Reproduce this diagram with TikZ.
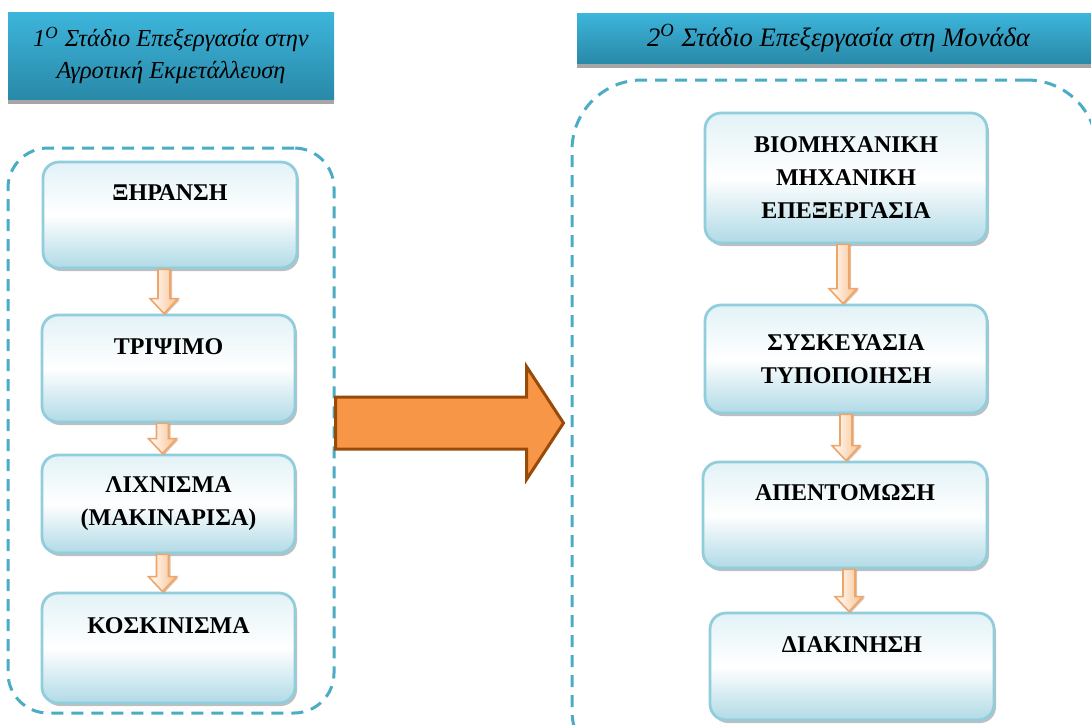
\documentclass[tikz,border=0pt]{standalone}
\usepackage{fontspec}
\setmainfont{Liberation Serif}
\usetikzlibrary{calc,shadows}
\definecolor{frameblue}{HTML}{4BACC6}
\definecolor{bartop}{HTML}{3DB5DB}
\definecolor{barbottom}{HTML}{2989A8}
\definecolor{boxtop}{HTML}{E2F2F7}
\definecolor{boxbottom}{HTML}{B0DAE6}
\definecolor{boxline}{HTML}{92CDDC}
\definecolor{peach}{HTML}{F9C08E}
\definecolor{peachline}{HTML}{EFA468}
\definecolor{bigfill}{HTML}{F79646}
\definecolor{bigline}{HTML}{9A4A08}

% down block arrow between two steps
\newcommand{\flowarrow}[3][0pt]{%
  \draw[smallarrow] let \p1=([xshift=#1]#2.south), \p2=(#2.south |- #3.north) in
    (\x1-3pt,\y1) -- (\x1+3pt,\y1) -- (\x1+3pt,\y2+7.5pt) -- (\x1+7pt,\y2+7.5pt)
    -- (\x1,\y2) -- (\x1-7pt,\y2+7.5pt) -- (\x1-3pt,\y2+7.5pt) -- cycle;}

\begin{document}
\begin{tikzpicture}[
    x=0.5pt, y=-0.5pt,
    titlebar/.style={top color=bartop, bottom color=barbottom, inner sep=0pt, align=center,
        font=\itshape\fontsize{12.2}{16}\selectfont,
        drop shadow={shadow xshift=0pt, shadow yshift=-2.5pt, fill=black!35, opacity=1}},
    frame/.style={draw=frameblue, line width=1.5pt, dash pattern=on 6pt off 4pt, rounded corners=20pt},
    stepbox/.style={rounded corners=8pt, draw=boxline, line width=1.4pt, top color=boxtop,
        bottom color=boxbottom, middle color=white, inner sep=0pt, align=center,
        font=\bfseries\fontsize{12}{16.5}\selectfont,
        drop shadow={shadow xshift=1pt, shadow yshift=-1.5pt, fill=black, opacity=0.25}},
    toptext/.style={text depth=22pt},
    smallarrow/.style={draw=peachline, line width=0.8pt, left color=white, right color=peach,
        drop shadow={shadow xshift=1pt, shadow yshift=-0.5pt, fill=peachline!80!black, opacity=0.5}},
    bigarrow/.style={fill=bigfill, draw=bigline, line width=1.5pt},
]
\useasboundingbox (0,0) rectangle (1091,724);
\fill[white] (0,0) rectangle (1091,724);
\clip (0,0) rectangle (1091,724);

% Stage frames
\node[frame, minimum width=163pt, minimum height=282.5pt] (stage1) at (171,430.5) {};
\node[frame, rounded corners=35pt, minimum width=262.5pt, minimum height=350pt] (stage2) at (834.5,430) {};

% Stage 1 steps
\node[stepbox, toptext, minimum width=127pt, minimum height=53pt] (dry) at (170,215) {ΞΗΡΑΝΣΗ};
\node[stepbox, toptext, minimum width=126.5pt, minimum height=53.5pt] (crush) at (168.5,368.5) {ΤΡΙΨΙΜΟ};
\node[stepbox, minimum width=126.5pt, minimum height=49pt] (winnow) at (168.5,504) {ΛΙΧΝΙΣΜΑ\\(ΜΑΚΙΝΑΡΙΣΑ)};
\node[stepbox, toptext, minimum width=126.5pt, minimum height=55pt] (sieve) at (168.5,648) {ΚΟΣΚΙΝΙΣΜΑ};

% Stage 2 steps
\node[stepbox, minimum width=141pt, minimum height=65pt] (process) at (846,178) {ΒΙΟΜΗΧΑΝΙΚΗ\\ΜΗΧΑΝΙΚΗ\\ΕΠΕΞΕΡΓΑΣΙΑ};
\node[stepbox, minimum width=141pt, minimum height=54pt] (pack) at (846,359) {ΣΥΣΚΕΥΑΣΙΑ\\ΤΥΠΟΠΟΙΗΣΗ};
\node[stepbox, toptext, minimum width=142pt, minimum height=53pt] (fumig) at (845,515) {ΑΠΕΝΤΟΜΩΣΗ};
\node[stepbox, toptext, minimum width=142pt, minimum height=53.5pt] (distrib) at (852,666.5) {ΔΙΑΚΙΝΗΣΗ};

% Step arrows
\flowarrow[-3pt]{dry}{crush}
\flowarrow[-3pt]{crush}{winnow}
\flowarrow[-3pt]{winnow}{sieve}
\flowarrow[-1.5pt]{process}{pack}
\flowarrow{pack}{fumig}
\flowarrow[2pt]{fumig}{distrib}

% Stage arrow
\draw[bigarrow] let \p1=(stage1.east), \p2=(stage2.west) in
    (\x1,\y1+16.75pt) -- (\x2-22pt,\y1+16.75pt) -- (\x2-22pt,\y1+32pt) -- (\x2-3.5pt,\y1+3.75pt)
    -- (\x2-22pt,\y1-24.5pt) -- (\x2-22pt,\y1-9.25pt) -- (\x1,\y1-9.25pt) -- cycle;

% Titles
\node[titlebar, minimum width=163pt, minimum height=43.5pt] (title1) at (171,55.5) {1\textsuperscript{O} Στάδιο Επεξεργασία στην\\Αγροτική Εκμετάλλευση};
\node[titlebar, font=\itshape\fontsize{13.3}{16}\selectfont, minimum width=261.5pt, minimum height=25pt] (title2) at (838.5,38) {2\textsuperscript{O} Στάδιο Επεξεργασία στη Μονάδα};
\end{tikzpicture}
\end{document}
